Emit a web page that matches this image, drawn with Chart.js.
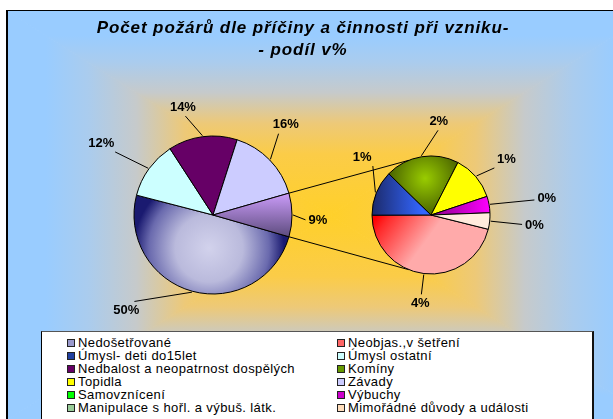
<!DOCTYPE html>
<html>
<head>
<meta charset="utf-8">
<script src="https://cdn.jsdelivr.net/npm/chart.js@4"></script>
<style>
body { margin: 0; background: #fff; width: 613px; height: 419px; overflow: hidden; position: relative; font-family: "Liberation Sans", Arial, sans-serif; }
canvas { position: absolute; left: 0; top: 0; }
#title { position: absolute; left: 0; width: 606px; top: 17px; text-align: center; font: italic bold 17px/22px "Liberation Sans", Arial, sans-serif; letter-spacing: 0.9px; color: #000; z-index: 3; }
#legend { position: absolute; left: 41px; top: 331px; width: 550px; height: 100px; background: #fff; border: 1px solid #000; border-top-color: #555; border-right: 2px solid #111; z-index: 3; }
.item { position: absolute; font-size: 13px; line-height: 13px; letter-spacing: 0.4px; white-space: nowrap; color: #000; }
.sw { display: inline-block; width: 6px; height: 6px; border: 1px solid #222; margin-right: 3px; vertical-align: 0px; }
</style>
</head>
<body>
<canvas id="main" width="613" height="419"></canvas>
<canvas id="second" width="613" height="419"></canvas>
<div id="title">Počet požárů dle příčiny a činnosti při vzniku-<br>- podíl v%</div>
<div id="legend"></div>
<script>
// categories in legend order, share of all fires in %
var categories = ['Nedošetřované', 'Neobjas.,v šetření', 'Úmysl- deti do15let', 'Úmysl ostatní',
    'Nedbalost a neopatrnost dospělých', 'Komíny', 'Topidla', 'Závady',
    'Samovznícení', 'Výbuchy', 'Manipulace s hořl. a výbuš. látk.', 'Mimořádné důvody a události'];
var shares = [49.6, 4.1, 1.1, 11.8, 14.1, 1.8, 1.1, 15.6, 0, 0.4, 0, 0.4];
var inSecondPie = [false, true, true, false, false, true, true, false, true, true, true, true];

var mainCats = [];
var secCats = [];
categories.forEach(function (c, i) { (inSecondPie[i] ? secCats : mainCats).push(i); });
var otherShare = secCats.reduce(function (s, i) { return s + shares[i]; }, 0);
mainCats.push(-1); // the "other" slice that opens into the second pie

var font = '"Liberation Sans", Arial, sans-serif';
var swatchColors = ['#9999CC', '#FF6666', '#2040A0', '#CCFFFF', '#660066', '#669900',
    '#FFFF00', '#CCCCFF', '#00FF00', '#CC00CC', '#99CC99', '#FFDDBB'];
var flatColors = ['#8080C0', '#FF9999', '#2A4AC0', '#CCFFFF', '#660066', '#6B8C00',
    '#FFFF00', '#CCCCFF', '#00FF00', '#CC00CC', '#99CC99', '#FFEBDD'];
var bgStops = [[0, '#FFD02A'], [0.3, '#FBCC48'], [0.45, '#EDC978'], [0.6, '#C6CACB'], [0.75, '#AACCEE'], [0.88, '#99CCFF'], [1, '#99CCFF']];

function fillFor(context, cat) {
    var a = context.chart.chartArea;
    if (!a || context.dataIndex === undefined) return cat < 0 ? '#A080D0' : flatColors[cat];
    var c = context.chart.ctx;
    var cx = (a.left + a.right) / 2, cy = (a.top + a.bottom) / 2, r = Math.min(a.width, a.height) / 2;
    var g;
    if (cat === -1) {
        g = c.createLinearGradient(0, cy - 0.3 * r, 0, cy + 0.3 * r);
        g.addColorStop(0, '#D0A0FF'); g.addColorStop(1, '#584878');
    } else if (cat === 0) {
        g = c.createRadialGradient(cx - 0.05 * r, cy + 0.42 * r, 0, cx - 0.05 * r, cy + 0.42 * r, 0.95 * r);
        g.addColorStop(0, '#D2D2EC'); g.addColorStop(0.45, '#BABADC'); g.addColorStop(0.8, '#6A6AAE'); g.addColorStop(1, '#1A1A70');
    } else if (cat === 1) {
        g = c.createLinearGradient(cx - 0.95 * r, cy + 0.05 * r, cx - 0.2 * r, cy + 0.6 * r);
        g.addColorStop(0, '#FF0000'); g.addColorStop(0.2, '#FF2A2A'); g.addColorStop(1, '#FFAAAA');
    } else if (cat === 2) {
        g = c.createLinearGradient(cx - r, 0, cx - 0.15 * r, 0);
        g.addColorStop(0, '#1C2A6A'); g.addColorStop(1, '#3366FF');
    } else if (cat === 5) {
        g = c.createRadialGradient(cx - 0.1 * r, cy - 0.62 * r, 0, cx - 0.1 * r, cy - 0.62 * r, 0.6 * r);
        g.addColorStop(0, '#99CC00'); g.addColorStop(1, '#4C6600');
    } else if (cat === 9) {
        g = c.createLinearGradient(cx, 0, cx + r, 0);
        g.addColorStop(0, '#880088'); g.addColorStop(1, '#FF00FF');
    } else {
        return flatColors[cat];
    }
    return g;
}

var backdrop = {
    id: 'backdrop',
    beforeDraw: function (chart) {
        var c = chart.ctx;
        var x0 = 7, y0 = 11, x1 = 654, y1 = 420, cx = 330, cy = 215;
        c.save();
        c.beginPath(); c.rect(x0, y0, x1 - x0, y1 - y0); c.clip();
        [[[x0, y0], [x1, y0], [cx, y0]], [[x1, y0], [x1, y1], [x1, cy]],
         [[x1, y1], [x0, y1], [cx, y1]], [[x0, y1], [x0, y0], [x0, cy]]].forEach(function (t) {
            var g = c.createLinearGradient(cx, cy, t[2][0], t[2][1]);
            bgStops.forEach(function (s) { g.addColorStop(s[0], s[1]); });
            c.fillStyle = g; c.strokeStyle = g; c.lineWidth = 1;
            c.beginPath(); c.moveTo(cx, cy); c.lineTo(t[0][0], t[0][1]); c.lineTo(t[1][0], t[1][1]); c.closePath();
            c.fill(); c.stroke();
        });
        c.restore();
        c.fillStyle = '#000';
        c.fillRect(6, 10, 2, 409);
        c.fillRect(6, 10, 607, 1);
    }
};

function labelPlugin(id, dists, shifts) {
    return {
        id: id,
        afterDraw: function (chart) {
            var c = chart.ctx;
            var ds = chart.data.datasets[0];
            c.save();
            c.font = 'bold 13px ' + font;
            c.textAlign = 'center';
            c.textBaseline = 'middle';
            c.strokeStyle = '#000';
            c.fillStyle = '#000';
            c.lineWidth = 1;
            chart.getDatasetMeta(0).data.forEach(function (arc, i) {
                var v = ds.data[i];
                if (!v) return;
                var p = arc.getProps(['x', 'y', 'startAngle', 'endAngle', 'outerRadius'], true);
                var mid = (p.startAngle + p.endAngle) / 2;
                var la = mid + shifts[i] * Math.PI / 180;
                var lx = p.x + dists[i] * Math.cos(la), ly = p.y + dists[i] * Math.sin(la);
                var txt = Math.round(v) + '%';
                var w = c.measureText(txt).width / 2 + 3, h = 9;
                var ux = Math.cos(la), uy = Math.sin(la);
                var back = Math.min(Math.abs(ux) > 0.01 ? w / Math.abs(ux) : 1e9, Math.abs(uy) > 0.01 ? h / Math.abs(uy) : 1e9);
                c.beginPath();
                c.moveTo(p.x + (p.outerRadius + 1) * Math.cos(mid), p.y + (p.outerRadius + 1) * Math.sin(mid));
                c.lineTo(lx - ux * back, ly - uy * back);
                c.stroke();
                c.fillText(txt, lx, ly);
            });
            c.restore();
        }
    };
}

var mainChart = new Chart(document.getElementById('main'), {
    type: 'pie',
    data: {
        labels: mainCats.map(function (i) { return i < 0 ? 'Jiný' : categories[i]; }),
        datasets: [{
            data: mainCats.map(function (i) { return i < 0 ? otherShare : shares[i]; }),
            backgroundColor: function (ctx) { return fillFor(ctx, mainCats[ctx.dataIndex]); },
            borderColor: '#000',
            borderWidth: 1
        }]
    },
    options: {
        responsive: false,
        animation: false,
        events: [],
        rotation: 106,
        radius: 79,
        layout: { padding: { left: 134, right: 321, top: 136, bottom: 125 } },
        plugins: { legend: { display: false }, tooltip: { enabled: false } }
    },
    plugins: [backdrop, labelPlugin('mainLabels', [129, 133, 112, 116, 105], [27, -3, -8, -7, 3])]
});

var connectors = {
    id: 'connectors',
    beforeDatasetsDraw: function (chart) {
        var other = mainChart.getDatasetMeta(0).data[mainCats.length - 1];
        var a = other.getProps(['x', 'y', 'startAngle', 'endAngle', 'outerRadius'], true);
        var b = chart.getDatasetMeta(0).data[0].getProps(['x', 'y', 'outerRadius'], true);
        var t = 112 * Math.PI / 180;
        var c = chart.ctx;
        c.save();
        c.strokeStyle = '#000';
        c.lineWidth = 1;
        c.beginPath();
        c.moveTo(a.x + a.outerRadius * Math.cos(a.startAngle), a.y + a.outerRadius * Math.sin(a.startAngle));
        c.lineTo(b.x + b.outerRadius * Math.cos(-t), b.y + b.outerRadius * Math.sin(-t));
        c.moveTo(a.x + a.outerRadius * Math.cos(a.endAngle), a.y + a.outerRadius * Math.sin(a.endAngle));
        c.lineTo(b.x + b.outerRadius * Math.cos(t), b.y + b.outerRadius * Math.sin(t));
        c.stroke();
        c.restore();
    }
};

var secondChart = new Chart(document.getElementById('second'), {
    type: 'pie',
    data: {
        labels: secCats.map(function (i) { return categories[i]; }),
        datasets: [{
            data: secCats.map(function (i) { return shares[i]; }),
            backgroundColor: function (ctx) { return fillFor(ctx, secCats[ctx.dataIndex]); },
            borderColor: '#000',
            borderWidth: 1
        }]
    },
    options: {
        responsive: false,
        animation: false,
        events: [],
        rotation: 104,
        radius: 59,
        layout: { padding: { left: 372, right: 123, top: 156, bottom: 145 } },
        plugins: { legend: { display: false }, tooltip: { enabled: false } }
    },
    plugins: [connectors, labelPlugin('secLabels', [89, 90, 94, 94, 0, 117, 0, 104], [0, 18, 14, 4, 0, 2, 0, 0])]
});

// legend: two columns, filled row by row
var legend = document.getElementById('legend');
categories.forEach(function (name, i) {
    var el = document.createElement('div');
    el.className = 'item';
    el.style.left = (i % 2 === 0 ? 25 : 295) + 'px';
    el.style.top = (4 + 13 * Math.floor(i / 2)) + 'px';
    el.innerHTML = '<span class="sw" style="background:' + swatchColors[i] + '"></span>' + name;
    legend.appendChild(el);
});
</script>
</body>
</html>
